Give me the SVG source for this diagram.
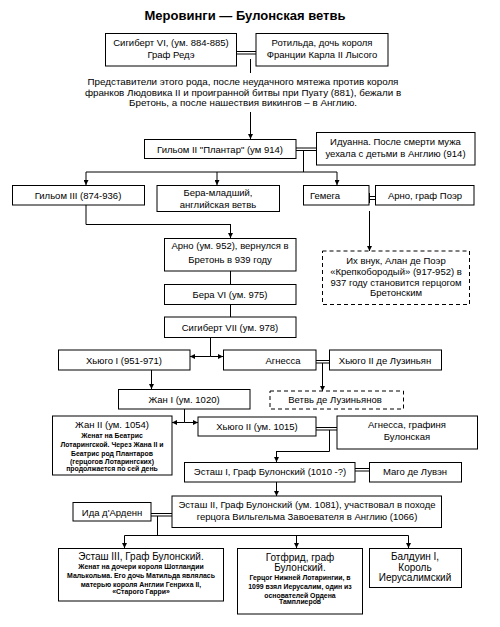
<svg xmlns="http://www.w3.org/2000/svg" width="500" height="627" viewBox="0 0 500 627">
<defs>
<marker id="ah" viewBox="0 0 10 10" refX="10" refY="5" markerWidth="5" markerHeight="5" orient="auto" markerUnits="userSpaceOnUse">
<path d="M0,0 L10,5 L0,10 z" fill="#000"/>
</marker>
<style>
rect{fill:#fff;stroke:#000;stroke-width:1}
rect.d{stroke-dasharray:4,3}
text{font-family:"Liberation Sans",Arial,sans-serif;font-size:9.5px;fill:#000;text-anchor:middle}
text.t{font-size:13px;font-weight:bold}
text.p{font-size:9.8px}
text.b{font-size:10px}
text.s{font-size:6.9px;font-weight:bold}
#connectors line,#connectors polyline{stroke:#000;stroke-width:1;fill:none}
#connectors .a{marker-end:url(#ah)}
</style>
</defs>
<rect x="0" y="0" width="500" height="627" style="fill:#fff;stroke:none"/>
<text class="t" x="245" y="20">Меровинги — Булонская ветвь</text>

<g id="connectors">
<line x1="237" y1="51.5" x2="256" y2="51.5"/>
<line x1="237" y1="54" x2="256" y2="54"/>
<line x1="250.5" y1="59" x2="250.5" y2="73"/>
<line class="a" x1="250.5" y1="112" x2="250.5" y2="139"/>
<line x1="296" y1="148" x2="316" y2="148"/>
<line x1="296" y1="150.5" x2="316" y2="150.5"/>
<line x1="303.5" y1="150.5" x2="303.5" y2="172"/>
<line x1="86" y1="172" x2="337" y2="172"/>
<line class="a" x1="86" y1="172" x2="86" y2="185"/>
<line class="a" x1="217" y1="172" x2="217" y2="185"/>
<line class="a" x1="337" y1="172" x2="337" y2="185"/>
<line x1="369" y1="196.5" x2="375" y2="196.5"/>
<line x1="369" y1="199.5" x2="375" y2="199.5"/>
<line x1="369.5" y1="193" x2="369.5" y2="203"/>
<line class="a" x1="369.5" y1="211" x2="369.5" y2="251"/>
<polyline points="86,205 86,224.5 230.5,224.5"/>
<line class="a" x1="230.5" y1="224" x2="230.5" y2="238"/>
<line x1="230.5" y1="271" x2="230.5" y2="284"/>
<line x1="230.5" y1="304" x2="230.5" y2="317"/>
<line x1="210.5" y1="337" x2="210.5" y2="356.5"/>
<line class="a" x1="210.5" y1="356.5" x2="190" y2="356.5"/>
<line class="a" x1="210.5" y1="356.5" x2="223" y2="356.5"/>
<line x1="316" y1="360.5" x2="329" y2="360.5"/>
<line x1="316" y1="363" x2="329" y2="363"/>
<line class="a" x1="322.5" y1="363" x2="322.5" y2="391"/>
<line class="a" x1="151.5" y1="370" x2="151.5" y2="389"/>
<line x1="184.5" y1="409" x2="184.5" y2="422.5"/>
<line class="a" x1="184.5" y1="422.5" x2="172" y2="422.5"/>
<line class="a" x1="184.5" y1="422.5" x2="198" y2="422.5"/>
<line x1="316" y1="427.5" x2="337" y2="427.5"/>
<line x1="316" y1="430" x2="337" y2="430"/>
<polyline points="329.5,430 329.5,451.5 276.5,451.5"/>
<line class="a" x1="276.5" y1="451" x2="276.5" y2="462"/>
<line x1="355" y1="468.5" x2="369" y2="468.5"/>
<line x1="355" y1="471" x2="369" y2="471"/>
<line class="a" x1="276.5" y1="482" x2="276.5" y2="496"/>
<line x1="151" y1="513.5" x2="172" y2="513.5"/>
<line x1="151" y1="516" x2="172" y2="516"/>
<line x1="157.5" y1="516" x2="157.5" y2="535.5"/>
<line x1="124.5" y1="535.5" x2="408.5" y2="535.5"/>
<line class="a" x1="124.5" y1="535.5" x2="124.5" y2="548"/>
<line class="a" x1="296.5" y1="535.5" x2="296.5" y2="548"/>
<line class="a" x1="408.5" y1="535.5" x2="408.5" y2="548"/>
</g>

<g id="sigibert6"><rect x="105.5" y="33.5" width="131" height="32.5"/><text x="171" y="46">Сигиберт VI, (ум. 884-885)</text><text x="171" y="57.5">Граф Редэ</text></g>
<g id="rotilda"><rect x="256" y="33.5" width="132" height="32.5"/><text x="322" y="46">Ротильда, дочь короля</text><text x="322" y="57.5">Франции Карла II Лысого</text></g>
<g id="note1"><text class="p" x="243" y="84.5">Представители этого рода, после неудачного мятежа против короля</text><text class="p" x="243" y="95.5">франков  Людовика II и проигранной битвы при Пуату (881), бежали в</text><text class="p" x="243" y="106">Бретонь, а после нашествия викингов  – в  Англию.</text></g>
<g id="guillaume2"><rect x="144.5" y="139.5" width="151.5" height="19"/><text x="220" y="152.5">Гильом II "Плантар" (ум 914)</text></g>
<g id="iduanna"><rect x="316.5" y="132.5" width="158.5" height="32.5"/><text x="395.5" y="144.5">Идуанна. После смерти мужа</text><text x="395.5" y="157">уехала с детьми в Англию (914)</text></g>
<g id="guillaume3"><rect x="12.5" y="185.5" width="132" height="19.5"/><text x="78" y="198.5">Гильом III (874-936)</text></g>
<g id="bera_ml"><rect x="157" y="185.5" width="122.5" height="26"/><text x="218" y="195.5">Бера-младший,</text><text x="218" y="207.5">английская ветвь</text></g>
<g id="gemega"><rect x="303.5" y="185.5" width="65.5" height="19.5"/><text x="310" y="198.5" style="text-anchor:start">Гемега</text></g>
<g id="arno_poer"><rect x="375.5" y="185.5" width="98.5" height="19.5"/><text x="425" y="198.5">Арно, граф Поэр</text></g>
<g id="arno952"><rect x="164.5" y="238.5" width="131.5" height="32.5"/><text x="230" y="249">Арно (ум. 952), вернулся в</text><text x="230" y="262.5">Бретонь в 939 году</text></g>
<g id="alan"><rect class="d" x="322.5" y="251" width="147" height="53.5"/><text x="396" y="263.5">Их внук, Алан де Поэр</text><text x="396" y="275">«Крепкобородый» (917-952) в</text><text x="396" y="285.5">937 году становится герцогом</text><text x="396" y="296">Бретонским</text></g>
<g id="bera6"><rect x="164.5" y="284.5" width="131.5" height="20"/><text x="230" y="298">Бера VI (ум. 975)</text></g>
<g id="sigibert7"><rect x="164.5" y="317" width="131.5" height="20.5"/><text x="230" y="330.5">Сигиберт VII (ум. 978)</text></g>
<g id="hugo1"><rect x="58.5" y="350" width="131.5" height="20"/><text x="124" y="363.5">Хьюго I (951-971)</text></g>
<g id="agnessa"><rect x="223.5" y="350" width="92.5" height="20"/><text x="283" y="363.5">Агнесса</text></g>
<g id="hugo2lus"><rect x="329.5" y="350" width="112" height="20"/><text x="385" y="363.5">Хьюго II де Лузиньян</text></g>
<g id="jean1"><rect x="118.5" y="389.5" width="131.5" height="19.5"/><text x="184" y="402.5">Жан I (ум. 1020)</text></g>
<g id="lusignan"><rect class="d" x="270" y="391" width="133.5" height="18"/><text x="335" y="403">Ветвь де Лузиньянов</text></g>
<g id="jean2"><rect x="52.5" y="416" width="119.5" height="59"/><text x="112" y="427.5">Жан II (ум. 1054)</text><text class="s" x="112" y="437.5">Женат на  Беатрис</text><text class="s" x="112" y="446.5">Лотарингской. Через Жана II и</text><text class="s" x="112" y="455.5">Беатрис род Плантаров</text><text class="s" x="112" y="464">(герцогов Лотарингских)</text><text class="s" x="112" y="471">продолжается по сей день</text></g>
<g id="hugo2"><rect x="198" y="417" width="118" height="19"/><text x="257" y="430">Хьюго II (ум. 1015)</text></g>
<g id="agnessa_b"><rect x="337" y="416" width="140.5" height="33"/><text x="407" y="427.5">Агнесса, графиня</text><text x="407" y="439.5">Булонская</text></g>
<g id="eustache1"><rect x="184.5" y="462.5" width="170.5" height="19.5"/><text x="270" y="475">Эсташ I, Граф Булонский (1010 -?)</text></g>
<g id="mago"><rect x="369.5" y="462.5" width="92" height="19.5"/><text x="415" y="475">Маго де Лувэн</text></g>
<g id="eustache2"><rect x="172" y="496" width="269.5" height="31.5"/><text x="307" y="508">Эсташ II, Граф Булонский (ум. 1081), участвовал в походе</text><text x="307" y="520">герцога Вильгельма Завоевателя в  Англию (1066)</text></g>
<g id="ida"><rect x="73" y="502.5" width="78" height="18.5"/><text x="112" y="515.5">Ида д'Арденн</text></g>
<g id="eustache3"><rect x="58.5" y="548.5" width="165" height="52.5"/><text class="b" x="141" y="560">Эсташ III, Граф Булонский.</text><text class="s" x="141" y="569">Женат на дочери короля Шотландии</text><text class="s" x="141" y="577.5">Малькольма. Его дочь Матильда являлась</text><text class="s" x="141" y="586.5">матерью короля Англии Генриха II,</text><text class="s" x="141" y="594">«Старого Гарри»</text></g>
<g id="gotfrid"><rect x="237.5" y="548.5" width="125" height="65.5"/><text class="b" x="300" y="560.5">Готфрид, граф</text><text class="b" x="300" y="570.5">Булонский.</text><text class="s" x="300" y="580">Герцог Нижней Лотарингии, в</text><text class="s" x="300" y="589">1099 взял Иерусалим, один из</text><text class="s" x="300" y="597.5">основателей Ордена</text><text class="s" x="300" y="604">Тамплиеров</text></g>
<g id="balduin"><rect x="369.5" y="548.5" width="92" height="39"/><text class="b" x="415" y="560">Балдуин I,</text><text class="b" x="415" y="570.5">Король</text><text class="b" x="415" y="580.5">Иерусалимский</text></g>
</svg>
